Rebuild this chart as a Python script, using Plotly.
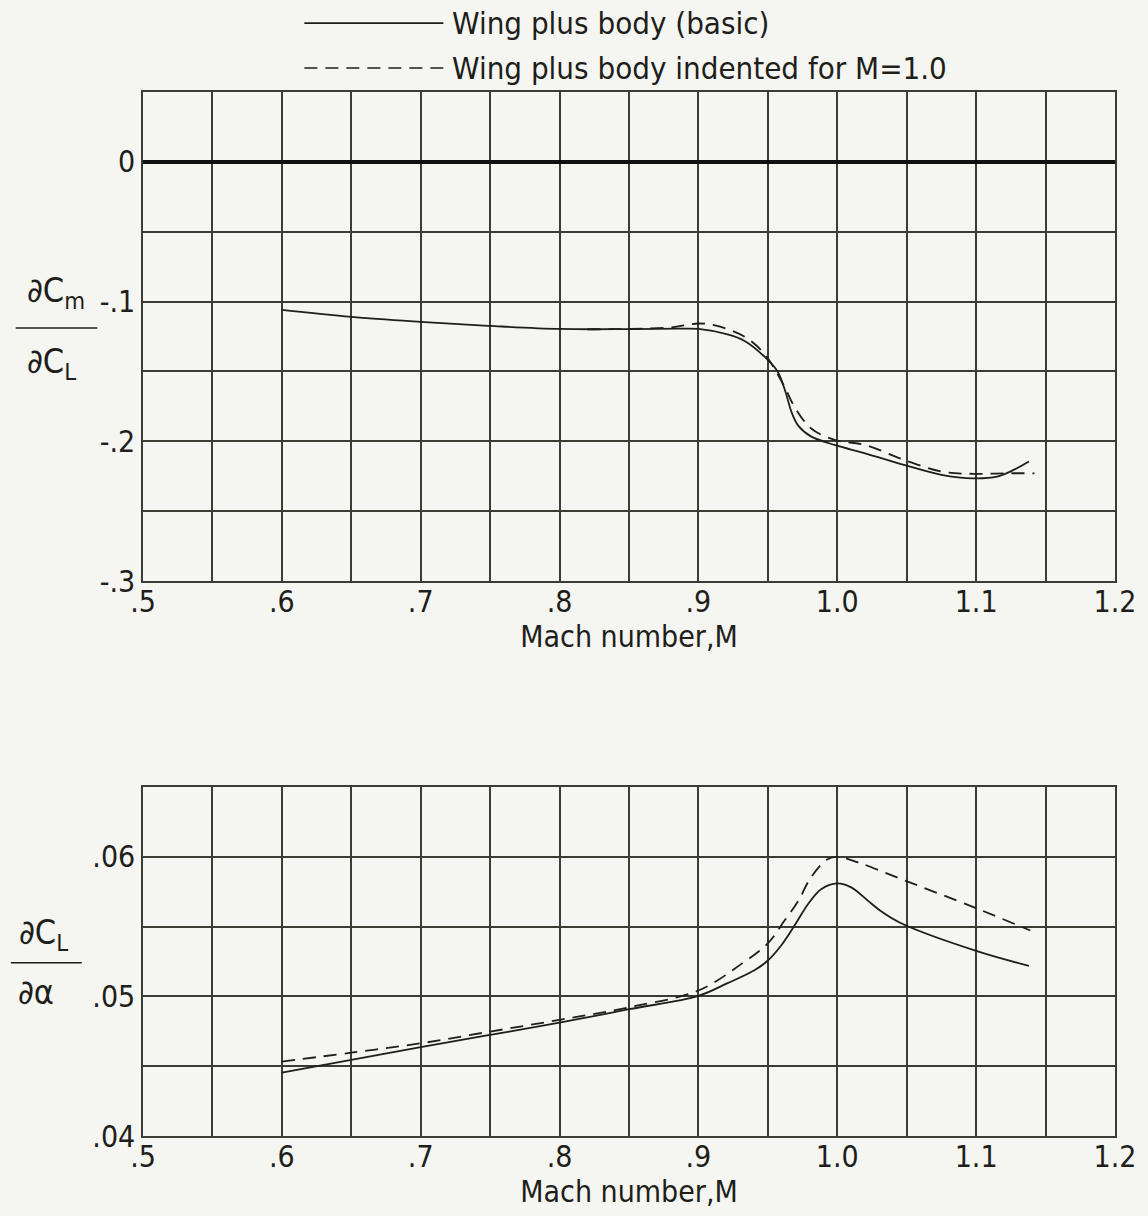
import plotly.graph_objects as go
from plotly.subplots import make_subplots

# ---- data ----
top_mach_basic = [0.60, 0.65, 0.70, 0.75, 0.80, 0.85, 0.885, 0.90, 0.921, 0.933, 0.948,
                  0.957, 0.963, 0.967, 0.972, 0.981, 0.998, 1.02, 1.048, 1.075, 1.098,
                  1.115, 1.127, 1.138]
top_cm_basic = [-0.106, -0.111, -0.1145, -0.1174, -0.1196, -0.1197, -0.1194, -0.1196,
                -0.1235, -0.128, -0.1398, -0.150, -0.1656, -0.179, -0.189, -0.1965,
                -0.2026, -0.2086, -0.2169, -0.224, -0.2265, -0.2253, -0.2205, -0.2145]

top_mach_indented = [0.82, 0.85, 0.88, 0.89, 0.90, 0.912, 0.933, 0.948, 0.962, 0.969,
                     0.981, 0.998, 1.02, 1.048, 1.075, 1.098, 1.12, 1.142]
top_cm_indented = [-0.1198, -0.1196, -0.1185, -0.117, -0.1157, -0.117, -0.125, -0.138,
                   -0.161, -0.175, -0.1907, -0.199, -0.2026, -0.2133, -0.2217, -0.2233,
                   -0.2229, -0.2229]

bot_mach_basic = [0.60, 0.65, 0.70, 0.75, 0.80, 0.85, 0.90, 0.921, 0.94, 0.95, 0.96, 0.97,
                  0.979, 0.9886, 1.0, 1.01, 1.022, 1.031, 1.046, 1.10, 1.138]
bot_cl_basic = [0.04454, 0.04545, 0.04636, 0.04724, 0.04812, 0.04908, 0.05004, 0.05095,
                0.05185, 0.05257, 0.0537, 0.0552, 0.05662, 0.05769, 0.05809, 0.05781,
                0.05686, 0.05614, 0.05524, 0.05326, 0.05219]

bot_mach_indented = [0.60, 0.65, 0.70, 0.75, 0.80, 0.85, 0.90, 0.931, 0.95, 0.962, 0.972,
                     0.981, 0.993, 1.0, 1.015, 1.043, 1.10, 1.139]
bot_cl_indented = [0.04533, 0.04597, 0.04664, 0.04748, 0.04832, 0.04922, 0.05042, 0.05233,
                   0.0538, 0.05543, 0.05686, 0.05852, 0.05983, 0.0600, 0.0596, 0.05852,
                   0.05632, 0.05472]

x_tickvals = [0.5, 0.55, 0.6, 0.65, 0.7, 0.75, 0.8, 0.85, 0.9, 0.95, 1.0, 1.05, 1.1, 1.15, 1.2]
x_ticktext = ['.5', '', '.6', '', '.7', '', '.8', '', '.9', '', '1.0', '', '1.1', '', '1.2']
top_y_tickvals = [-0.3, -0.25, -0.2, -0.15, -0.1, -0.05, 0.0, 0.05]
top_y_ticktext = ['-.3', '', '-.2', '', '-.1', '', '0', '']
bot_y_tickvals = [0.04, 0.045, 0.05, 0.055, 0.06, 0.065]
bot_y_ticktext = ['.04', '', '.05', '', '.06', '']

legend_labels = ['Wing plus body (basic)', 'Wing plus body indented for M=1.0']

# ---- styling ----
FONT = "DejaVu Sans Condensed, Liberation Sans Narrow, Roboto, sans-serif"
INK = '#1e1e1a'
GRID = '#3c3c34'
BG = '#f5f5f2'
DASH = '13px,8px'
SMOOTH = 1.0

fig = make_subplots(rows=2, cols=1, vertical_spacing=0.0)

fig.add_trace(go.Scatter(x=top_mach_basic, y=top_cm_basic, mode='lines',
                         line=dict(color=INK, width=1.8, shape='spline', smoothing=SMOOTH),
                         name=legend_labels[0], showlegend=False), row=1, col=1)
fig.add_trace(go.Scatter(x=top_mach_indented, y=top_cm_indented, mode='lines',
                         line=dict(color=INK, width=1.8, dash=DASH, shape='spline', smoothing=SMOOTH),
                         name=legend_labels[1], showlegend=False), row=1, col=1)
fig.add_trace(go.Scatter(x=bot_mach_basic, y=bot_cl_basic, mode='lines',
                         line=dict(color=INK, width=1.8, shape='spline', smoothing=SMOOTH),
                         name=legend_labels[0], showlegend=False), row=2, col=1)
fig.add_trace(go.Scatter(x=bot_mach_indented, y=bot_cl_indented, mode='lines',
                         line=dict(color=INK, width=1.8, dash=DASH, shape='spline', smoothing=SMOOTH),
                         name=legend_labels[1], showlegend=False), row=2, col=1)

axis_common = dict(showgrid=True, gridcolor=GRID, gridwidth=1.5, showline=True,
                   linecolor=GRID, linewidth=1.5, mirror=True, ticks='',
                   tickfont=dict(family=FONT, size=30, color=INK), zeroline=False)

title_font = dict(family=FONT, size=30, color=INK)

fig.update_xaxes(range=[0.5, 1.2], tickvals=x_tickvals, ticktext=x_ticktext,
                 title=dict(text='Mach number,M', font=title_font, standoff=0),
                 ticklabelstandoff=-7,
                 **axis_common)
fig.update_yaxes(range=[-0.3, 0.05], tickvals=top_y_tickvals, ticktext=top_y_ticktext,
                 row=1, col=1, **axis_common)
fig.update_yaxes(zeroline=True, zerolinecolor='#111', zerolinewidth=3.5, row=1, col=1)
fig.update_yaxes(range=[0.04, 0.065], tickvals=bot_y_tickvals, ticktext=bot_y_ticktext,
                 row=2, col=1, **axis_common)

fig.update_layout(
    xaxis=dict(domain=[0, 1]),
    yaxis=dict(domain=[0.5316, 1.0]),
    yaxis2=dict(domain=[0.0, 0.3343]),
)

shapes = []
annotations = []

# legend (drawn in paper space)
leg_items = [(1.066, 'solid'), (1.023, DASH)]
for (ly, dash), label in zip(leg_items, legend_labels):
    shapes.append(dict(type='line', xref='paper', yref='paper', x0=0.166, x1=0.309,
                       y0=ly, y1=ly, line=dict(color=INK, width=1.6, dash=dash)))
    annotations.append(dict(xref='paper', yref='paper', x=0.316, y=ly, text=label,
                            showarrow=False, xanchor='left', yanchor='middle',
                            font=dict(family=FONT, size=31, color=INK)))

# y-axis fraction labels
frac_font = dict(family=FONT, size=34, color=INK)
annotations += [
    dict(xref='paper', yref='paper', x=-0.090, y=0.808, text='∂C<sub>m</sub>',
         showarrow=False, xanchor='center', yanchor='middle', font=frac_font),
    dict(xref='paper', yref='paper', x=-0.094, y=0.740, text='∂C<sub>L</sub>',
         showarrow=False, xanchor='center', yanchor='middle', font=frac_font),
    dict(xref='paper', yref='paper', x=-0.102, y=0.193, text='∂C<sub>L</sub>',
         showarrow=False, xanchor='center', yanchor='middle', font=frac_font),
    dict(xref='paper', yref='paper', x=-0.110, y=0.138, text='∂α',
         showarrow=False, xanchor='center', yanchor='middle', font=frac_font),
]
shapes += [
    dict(type='line', xref='paper', yref='paper', x0=-0.131, x1=-0.047, y0=0.774, y1=0.774,
         line=dict(color=INK, width=1.6)),
    dict(type='line', xref='paper', yref='paper', x0=-0.136, x1=-0.063, y0=0.166, y1=0.166,
         line=dict(color=INK, width=1.6)),
]

fig.update_layout(
    width=1148, height=1216,
    margin=dict(l=143, r=30, t=92, b=80),
    paper_bgcolor=BG, plot_bgcolor=BG,
    font=dict(family=FONT, color=INK),
    shapes=shapes, annotations=annotations,
    showlegend=False,
)

fig.write_html("out.html",
               config={'displayModeBar': False},
               post_script="document.body.style.margin='0';"
                           "document.body.style.background='%s';" % BG)
